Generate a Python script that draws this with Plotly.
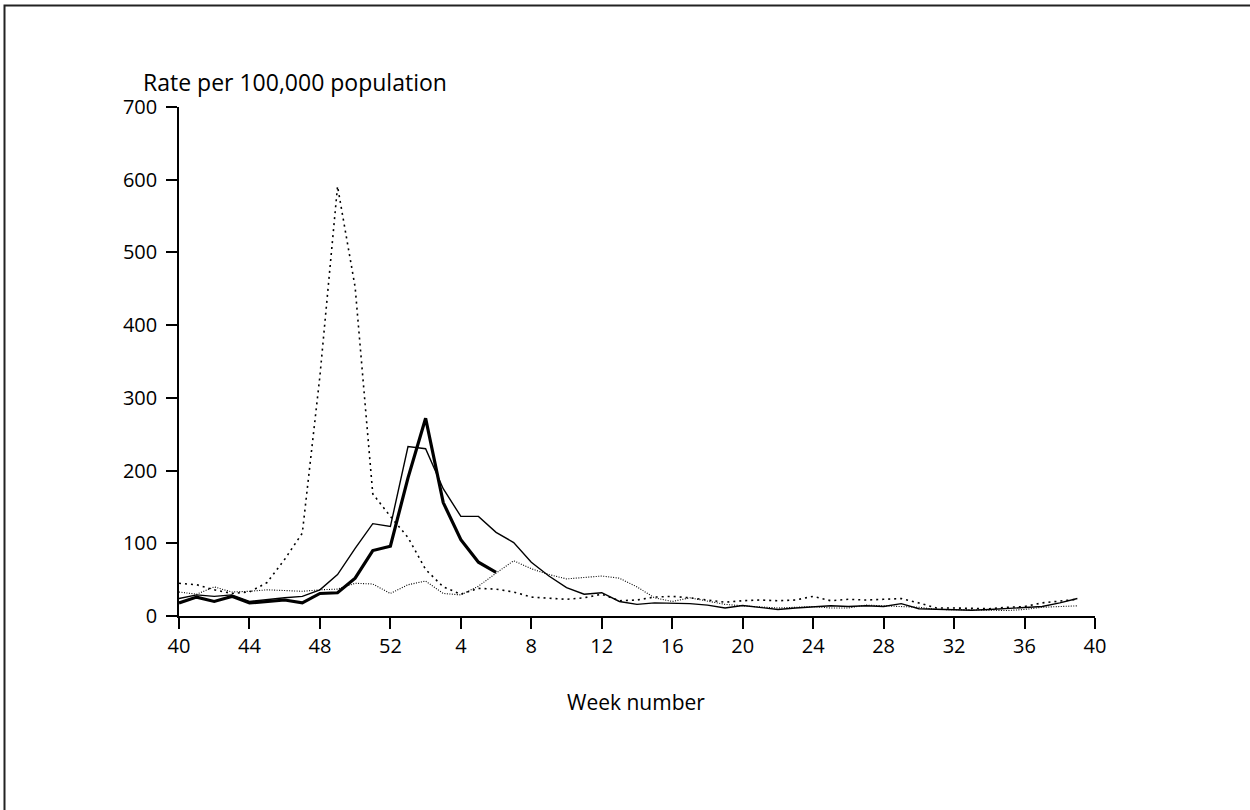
import plotly.graph_objects as go

# Week labels for each data position (week 40 of one year to week 39 of the next)
weeks = [40, 41, 42, 43, 44, 45, 46, 47, 48, 49, 50, 51, 52] + list(range(1, 40))
pos = list(range(len(weeks)))

# Tick labels along the x axis
tick_pos = list(range(0, 53, 4))
tick_text = ["40", "44", "48", "52", "4", "8", "12", "16", "20", "24", "28", "32", "36", "40"]

# Season with the large early peak (sparse dotted)
season_a = [45, 43, 36, 31, 33, 46, 78, 114, 330, 591, 452, 168, 137, 108, 64, 40,
            30, 38, 37, 33, 26, 24, 23, 25, 30, 21, 22, 26, 27, 25, 22, 19,
            21, 22, 21, 22, 27, 21, 23, 22, 23, 24, 18, 11, 11, 10, 10, 12,
            13, 18, 21, 23]

# Season with low activity (fine dotted)
season_b = [33, 30, 40, 33, 34, 36, 35, 34, 36, 37, 45, 44, 31, 43, 48, 31,
            29, 41, 59, 76, 65, 57, 51, 53, 55, 52, 40, 25, 20, 25, 20, 16,
            14, 12, 11, 12, 13, 11, 11, 15, 14, 14, 12, 9, 9, 8, 8, 7.5,
            9, 12, 13, 14]

# Previous season (thin solid)
season_c = [24, 29, 27, 29, 20, 23, 25, 27, 36, 57, 93, 127, 123, 233, 230, 175,
            137, 137, 115, 101, 74, 55, 39, 30, 32, 20, 16, 18, 18, 17, 15, 11,
            14.5, 12, 9, 11, 13, 14, 13, 14, 13, 17, 10, 9, 8, 8, 9, 10,
            12, 13, 18, 24]

# Current season (thick solid), up to week 6
season_d = [18, 26, 20, 27, 18, 20, 22, 18, 31, 32, 52, 90, 96, 190, 272, 156,
            105, 74, 60]

FONT = "Open Sans"
FS = 20

fig = go.Figure()
fig.add_trace(go.Scatter(x=pos[:len(season_a)], y=season_a, mode="lines",
                         line=dict(color="black", width=1.6, dash="2px,4px"),
                         showlegend=False, hoverinfo="skip"))
fig.add_trace(go.Scatter(x=pos[:len(season_b)], y=season_b, mode="lines",
                         line=dict(color="black", width=1.1, dash="1px,1.5px"),
                         showlegend=False, hoverinfo="skip"))
fig.add_trace(go.Scatter(x=pos[:len(season_c)], y=season_c, mode="lines",
                         line=dict(color="black", width=1.4),
                         showlegend=False, hoverinfo="skip"))
fig.add_trace(go.Scatter(x=pos[:len(season_d)], y=season_d, mode="lines",
                         line=dict(color="black", width=3.2),
                         showlegend=False, hoverinfo="skip"))

L, R, T, B = 179, 155, 107, 193.5
W, H = 1250, 810
pw = W - L - R
ph = H - T - B

def px_x(p):
    return (p - L) / pw

def px_y(p):
    return (H - B - p) / ph

fig.update_layout(
    width=W, height=H,
    margin=dict(l=L, r=R, t=T, b=B, pad=0),
    paper_bgcolor="white", plot_bgcolor="white",
    font=dict(family=FONT, size=FS, color="black"),
    xaxis=dict(range=[0, 52], tickmode="array", tickvals=tick_pos, ticktext=tick_text,
               showgrid=False, zeroline=False, showline=True, linecolor="black",
               linewidth=1.6, ticks="outside", ticklen=11, tickwidth=1.6,
               tickcolor="black", ticklabelstandoff=0,
               tickfont=dict(family=FONT, size=FS, color="black")),
    yaxis=dict(range=[0, 700], tickmode="array", tickvals=list(range(0, 701, 100)),
               showgrid=False, zeroline=False, showline=True, linecolor="black",
               linewidth=1.6, ticks="outside", ticklen=11, tickwidth=1.6,
               tickcolor="black", ticklabelstandoff=5,
               tickfont=dict(family=FONT, size=FS, color="black")),
    annotations=[
        dict(text="Rate per 100,000 population", xref="paper", yref="paper",
             x=px_x(141), y=px_y(82), xanchor="left", yanchor="middle",
             showarrow=False, font=dict(family=FONT, size=23, color="black")),
        dict(text="Week number", xref="paper", yref="paper",
             x=px_x(636), y=px_y(703), xanchor="center", yanchor="middle",
             showarrow=False, font=dict(family=FONT, size=21, color="black")),
    ],
    shapes=[
        dict(type="rect", xref="paper", yref="paper",
             x0=px_x(4.5), y0=px_y(830), x1=px_x(1270), y1=px_y(5.5),
             line=dict(color="#222222", width=2), fillcolor="rgba(0,0,0,0)",
             layer="below"),
    ],
)

fig.write_html("out.html")
